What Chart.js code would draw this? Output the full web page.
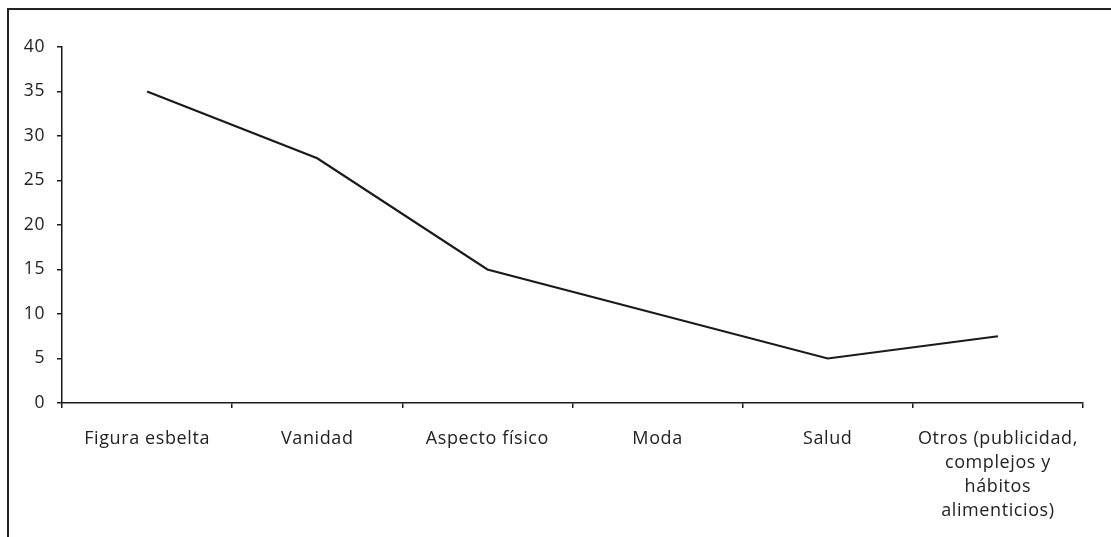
<!DOCTYPE html>
<html>
<head>
<meta charset="utf-8">
<script src="https://cdn.jsdelivr.net/npm/chart.js@4/dist/chart.umd.min.js"></script>
<style>
  html, body { margin: 0; padding: 0; background: #fff; }
  #wrap { position: relative; width: 1111px; height: 537px; overflow: hidden; }
  #frame { position: absolute; left: 7px; top: 8px; width: 1200px; height: 600px; border: 2px solid #222; box-sizing: border-box; }
  #c { position: absolute; left: 0; top: 0; }
</style>
</head>
<body>
<div id="wrap">
  <div id="frame"></div>
  <canvas id="c" width="1111" height="537"></canvas>
</div>
<script>
const categories = [
  'Figura esbelta',
  'Vanidad',
  'Aspecto físico',
  'Moda',
  'Salud',
  ['Otros (publicidad,', 'complejos y', 'hábitos', 'alimenticios)']
];
const values = [35, 27.5, 15, 10, 5, 7.5];
const yTicks = [0, 5, 10, 15, 20, 25, 30, 35, 40];

const ink = '#1a1a1a';
const xFont = { family: 'Open Sans', size: 18, lineHeight: 24 / 18 };
const yFont = { family: 'Open Sans', size: 17.5 };

// slightly open tracking for all canvas text
const tracking = {
  id: 'tracking',
  beforeLayout(chart) { chart.ctx.letterSpacing = '0.6px'; },
  beforeDraw(chart) { chart.ctx.letterSpacing = '0.6px'; }
};

new Chart(document.getElementById('c'), {
  type: 'line',
  data: {
    labels: categories,
    datasets: [{
      data: values,
      borderColor: ink,
      borderWidth: 2.2,
      pointRadius: 0,
      tension: 0,
      fill: false
    }]
  },
  plugins: [tracking],
  options: {
    responsive: false,
    animation: false,
    layout: { padding: { left: 0, right: 28, top: 47, bottom: 0 } },
    plugins: { legend: { display: false }, tooltip: { enabled: false } },
    scales: {
      x: {
        type: 'category',
        offset: true,
        grid: { offset: true, drawOnChartArea: false, drawTicks: true, tickLength: 5, color: ink, lineWidth: 1.5 },
        border: { display: true, color: ink, width: 1.5 },
        ticks: { color: '#222', font: xFont, maxRotation: 0, autoSkip: false, padding: 19 },
        afterFit(scale) { scale.height = 134; }
      },
      y: {
        min: 0,
        max: 40,
        afterBuildTicks(scale) { scale.ticks = yTicks.map(v => ({ value: v })); },
        grid: { drawOnChartArea: false, drawTicks: true, tickLength: 5, color: ink, lineWidth: 1.5 },
        border: { display: true, color: ink, width: 1.5 },
        ticks: { color: '#222', font: yFont, padding: 12 },
        afterFit(scale) { scale.width = 62; }
      }
    }
  }
});
</script>
</body>
</html>
